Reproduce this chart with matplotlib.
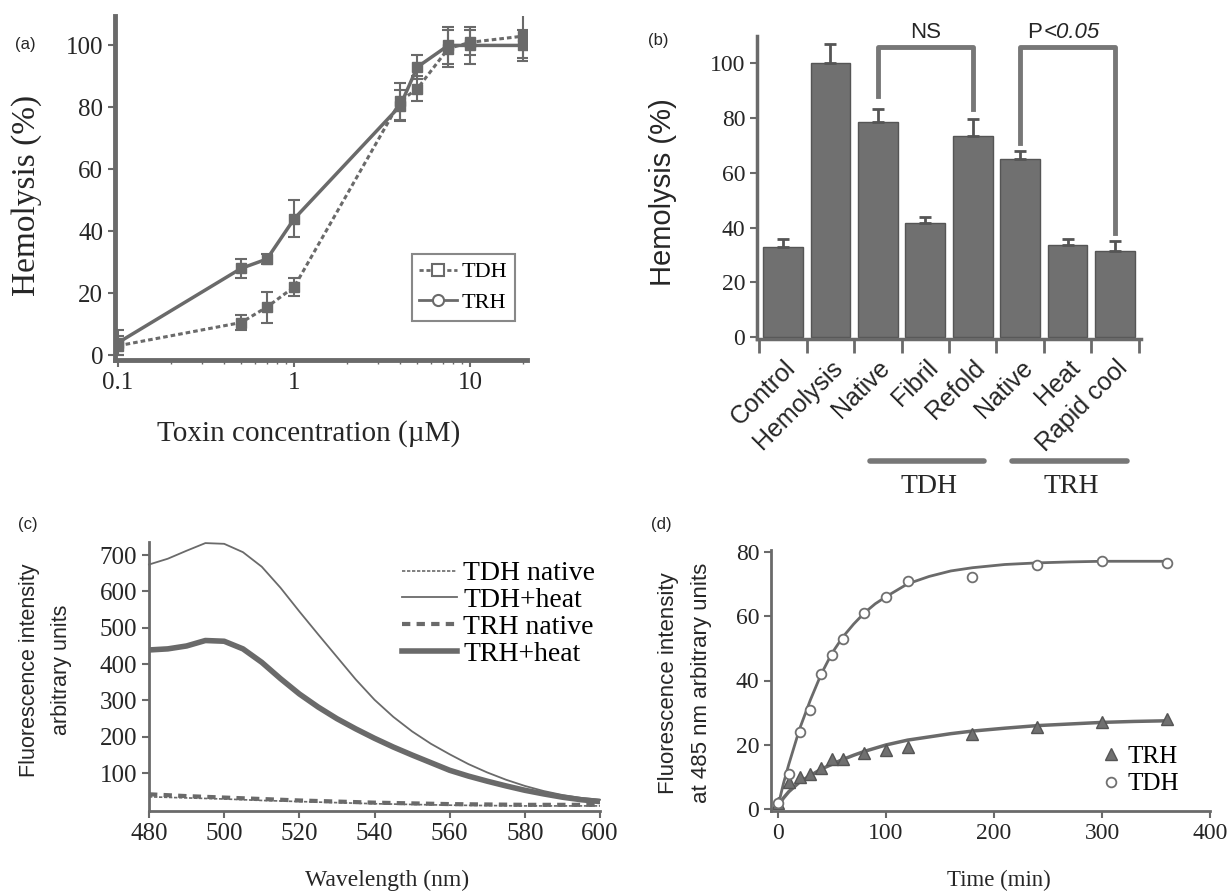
import numpy as np
import matplotlib
matplotlib.use('Agg')
import matplotlib.pyplot as plt
from matplotlib.lines import Line2D
from matplotlib.ticker import NullFormatter

# (a) hemolysis vs toxin concentration
conc = [0.1, 0.5, 0.7, 1, 4, 5, 7.5, 10, 20]
tdh_a = [3, 10.5, 15.5, 22, 82, 86, 99, 101, 103]
tdh_a_err = [3, 2.5, 5, 3, 6, 4, 6, 4, 7]
trh_a = [4, 28, 31, 44, 80.5, 93, 100, 100, 100]
trh_a_err = [4, 3, 1.5, 6, 5, 4, 6, 6, 5]

# (b) hemolysis per condition
cond_b = ["Control", "Hemolysis", "Native", "Fibril", "Refold", "Native", "Heat", "Rapid cool"]
hemo_b = [33, 100, 78.5, 41.5, 73.5, 65, 33.5, 31.5]
hemo_b_err = [3, 7, 5, 2.5, 6, 3, 2.5, 3.5]

# (c) spectra
wl = [480, 485, 490, 495, 500, 505, 510, 515, 520, 525, 530, 535, 540,
      545, 550, 555, 560, 565, 570, 575, 580, 585, 590, 595, 600]
tdh_heat = [674, 690, 712, 733, 731, 708, 668, 610, 545, 482, 420, 358, 302,
            255, 215, 181, 152, 125, 102, 82, 65, 51, 40, 32, 27]
trh_heat = [439, 442, 450, 465, 463, 442, 405, 360, 318, 282, 250, 222, 196,
            172, 150, 129, 108, 92, 78, 65, 53, 43, 34, 27, 22]
wl_nat = [480, 490, 500, 510, 520, 530, 540, 550, 560, 570, 580, 590, 600]
tdh_nat = [35, 32, 29, 25, 22, 19, 16, 14, 12, 11, 10, 10, 10]
trh_nat = [42, 37, 33, 29, 25, 22, 19, 17, 15, 14, 13, 13, 13]

# (d) kinetics
t_d = [0, 10, 20, 30, 40, 50, 60, 80, 100, 120, 180, 240, 300, 360]
tdh_d = [2, 11, 24, 31, 42, 48, 53, 61, 66, 71, 72, 76, 77, 76.5]
trh_d = [2, 8.5, 10, 11, 13, 15.5, 15.5, 17.5, 18.5, 19.5, 23.5, 25.5, 27, 28]
t_fit = [0, 5, 10, 20, 30, 40, 50, 60, 70, 80, 90, 100, 120, 140, 160, 180, 210, 240, 270, 300, 330, 360]
tdh_fit = [1, 8, 14, 25, 34, 42, 48.5, 53.5, 57.5, 61, 63.8, 66, 70, 72.3, 74, 75, 76, 76.5, 76.8, 77, 77, 77]
trh_fit = [1, 3.5, 5.5, 8.5, 10.5, 12.5, 14, 15.5, 16.8, 18, 19, 20, 21.5, 22.5, 23.5, 24.3, 25.2, 26, 26.5, 27, 27.3, 27.5]

W, H = 1228, 892
SERIF = 'Liberation Serif'
SANS = 'Liberation Sans'
GRAY = '#6a6a6a'
TXT = '#262626'


def box(l, t, r, b):
    return [l / W, 1 - b / H, (r - l) / W, (b - t) / H]


def style(ax, lw=2.5, size=18, family=SERIF):
    for s in ['top', 'right']:
        ax.spines[s].set_visible(False)
    for s in ['left', 'bottom']:
        ax.spines[s].set_linewidth(lw)
        ax.spines[s].set_color(GRAY)
    ax.tick_params(colors=GRAY, labelcolor=TXT, width=1.5, length=5, labelsize=size)
    for lab in ax.get_xticklabels() + ax.get_yticklabels():
        lab.set_family(family)


fig = plt.figure(figsize=(W / 100, H / 100), dpi=100)

# ---------- (a)
ax = fig.add_axes(box(115, 16, 527, 360))
ax.errorbar(conc, tdh_a, yerr=tdh_a_err, ls=(0, (1.5, 1)), color=GRAY, lw=2.2,
            marker='s', ms=7, capsize=4, elinewidth=1.5, capthick=1.5)
ax.errorbar(conc, trh_a, yerr=trh_a_err, ls='-', color=GRAY, lw=2.5,
            marker='s', ms=7, capsize=4, elinewidth=1.5, capthick=1.5)
ax.set_xscale('log')
ax.set_xlim(0.096, 21)
ax.set_ylim(-1.6, 109.5)
ax.set_xticks([0.1, 1, 10], ['0.1', '1', '10'])
ax.xaxis.set_minor_formatter(NullFormatter())
ax.set_yticks(range(0, 101, 20))
style(ax, lw=3.5, size=18)
ax.tick_params(which='minor', length=3, width=1, colors=GRAY)
ax.set_ylabel('Hemolysis (%)', fontsize=24, family=SERIF, color=TXT)
ax.yaxis.set_label_coords(-0.177, 0.477)
ax.set_xlabel('Toxin concentration (\u00b5M)', fontsize=21, family=SERIF, color=TXT)
ax.xaxis.set_label_coords(0.47, -0.175)
hl = [Line2D([], [], ls=(0, (1.5, 1)), color=GRAY, lw=2, marker='s', ms=8, mfc='white', mew=1.5),
      Line2D([], [], ls='-', color=GRAY, lw=2, marker='o', ms=8, mfc='white', mew=1.5)]
leg = ax.legend(hl, ['TDH', 'TRH'], loc='upper right', bbox_to_anchor=(0.998, 0.34),
                prop={'family': SERIF, 'size': 16}, handlelength=1.7, handletextpad=0.2,
                labelspacing=0.45, borderpad=0.35, fancybox=False, edgecolor=GRAY)
leg.get_frame().set_linewidth(1.5)

# ---------- (b)
ax = fig.add_axes(box(757, 36, 1141, 339))
xb = np.arange(len(cond_b))
ax.bar(xb, hemo_b, width=0.84, color='#707070', edgecolor='#555555', lw=1,
       yerr=[np.zeros(len(xb)), hemo_b_err], capsize=4,
       error_kw=dict(ecolor='#555555', elinewidth=2, capthick=2))
ax.set_xlim(-0.55, 7.55)
ax.set_ylim(-0.7, 110)
ax.set_yticks(range(0, 101, 20))
ax.set_xticks(xb, cond_b, rotation=45, ha='right', rotation_mode='anchor')
ax.set_xticks(np.arange(-0.5, 8, 1), minor=True)
style(ax, lw=2.5, size=17)
for lab in ax.get_xticklabels():
    lab.set_family(SANS)
    lab.set_fontsize(18)
ax.tick_params(axis='x', which='major', length=0, pad=12)
ax.tick_params(axis='x', which='minor', length=10, width=2, colors=GRAY)
ax.set_ylabel('Hemolysis (%)', fontsize=21, family=SANS, color=TXT)
ax.yaxis.set_label_coords(-0.209, 0.485)
ax.plot([2, 2, 4, 4], [88, 106, 106, 83.5], color='#777777', lw=3.5, clip_on=False)
ax.plot([5, 5, 7, 7], [71, 106, 106, 38], color='#777777', lw=3.5, clip_on=False)
ax.text(3, 107.5, 'NS', ha='center', va='bottom', family=SANS, fontsize=16, color=TXT)
ax.text(5.47, 107.5, 'P', ha='right', va='bottom', family=SANS, fontsize=16, color=TXT)
ax.text(5.5, 107.5, '<0.05', ha='left', va='bottom', family=SANS, fontsize=16,
        style='italic', color=TXT)
tr = ax.get_xaxis_transform()
ax.plot([1.83, 4.24], [-0.403, -0.403], transform=tr, color='#777777', lw=4,
        solid_capstyle='round', clip_on=False)
ax.plot([4.82, 7.26], [-0.403, -0.403], transform=tr, color='#777777', lw=4,
        solid_capstyle='round', clip_on=False)
ax.text(3.08, -0.488, 'TDH', transform=tr, ha='center', va='center', family=SERIF,
        fontsize=20, color=TXT)
ax.text(6.08, -0.488, 'TRH', transform=tr, ha='center', va='center', family=SERIF,
        fontsize=20, color=TXT)

# ---------- (c)
ax = fig.add_axes(box(149, 542, 600, 811))
ax.plot(wl_nat, tdh_nat, color=GRAY, lw=1.2, ls=(0, (2, 1)), label='TDH native')
ax.plot(wl, tdh_heat, color=GRAY, lw=1.3, label='TDH+heat', clip_on=False)
ax.plot(wl_nat, trh_nat, color=GRAY, lw=3, ls=(0, (2, 1.5)), label='TRH native')
ax.plot(wl, trh_heat, color=GRAY, lw=4, label='TRH+heat')
ax.set_xlim(480, 600)
ax.set_ylim(-4, 736)
ax.set_xticks(range(480, 601, 20))
ax.set_yticks(range(100, 701, 100))
style(ax, lw=2, size=18)
ax.set_ylabel('Fluorescence intensity\narbitrary units', fontsize=15.5, family=SANS,
              color=TXT, linespacing=1.7)
ax.yaxis.set_label_coords(-0.171, 0.524)
ax.set_xlabel('Wavelength (nm)', fontsize=17, family=SERIF, color=TXT)
ax.xaxis.set_label_coords(0.528, -0.22)
ax.legend(loc='upper left', bbox_to_anchor=(388 / W, 1 - 547 / H),
          bbox_transform=fig.transFigure, frameon=False,
          prop={'family': SERIF, 'size': 20}, handlelength=2.0,
          handletextpad=0.2, labelspacing=0.05, borderpad=0)

# ---------- (d)
ax = fig.add_axes(box(771, 550, 1210, 811))
ax.plot(t_fit, tdh_fit, color=GRAY, lw=2)
ax.plot(t_fit, trh_fit, color=GRAY, lw=2.5)
ax.plot(t_d, trh_d, ls='none', marker='^', ms=8, color='#707070', mec='#555555', label='TRH')
ax.plot(t_d, tdh_d, ls='none', marker='o', ms=7, mfc='white', mec='#707070', mew=1.3,
        label='TDH')
ax.set_xlim(-6.5, 400)
ax.set_ylim(-0.5, 80.5)
ax.set_xticks(range(0, 401, 100))
ax.set_yticks(range(0, 81, 20))
style(ax, lw=2, size=17)
ax.set_ylabel('Fluorescence intensity\nat 485 nm arbitrary units', fontsize=16,
              family=SANS, color=TXT, linespacing=1.75)
ax.yaxis.set_label_coords(-0.134, 0.49)
ax.set_xlabel('Time (min)', fontsize=16.5, family=SERIF, color=TXT)
ax.xaxis.set_label_coords(0.52, -0.226)
ax.legend(loc='upper left', bbox_to_anchor=(1088 / W, 1 - 733 / H),
          bbox_transform=fig.transFigure, frameon=False,
          prop={'family': SERIF, 'size': 18}, handlelength=0.8,
          handletextpad=0.3, labelspacing=0.2, borderpad=0)

# panel letters
for s, px, py in [('(a)', 25, 45), ('(b)', 658, 40), ('(c)', 28, 525), ('(d)', 661, 525)]:
    fig.text(px / W, 1 - py / H, s, ha='center', va='center', family=SANS, fontsize=12,
             color=TXT)

fig.savefig('out.png', dpi=100)
